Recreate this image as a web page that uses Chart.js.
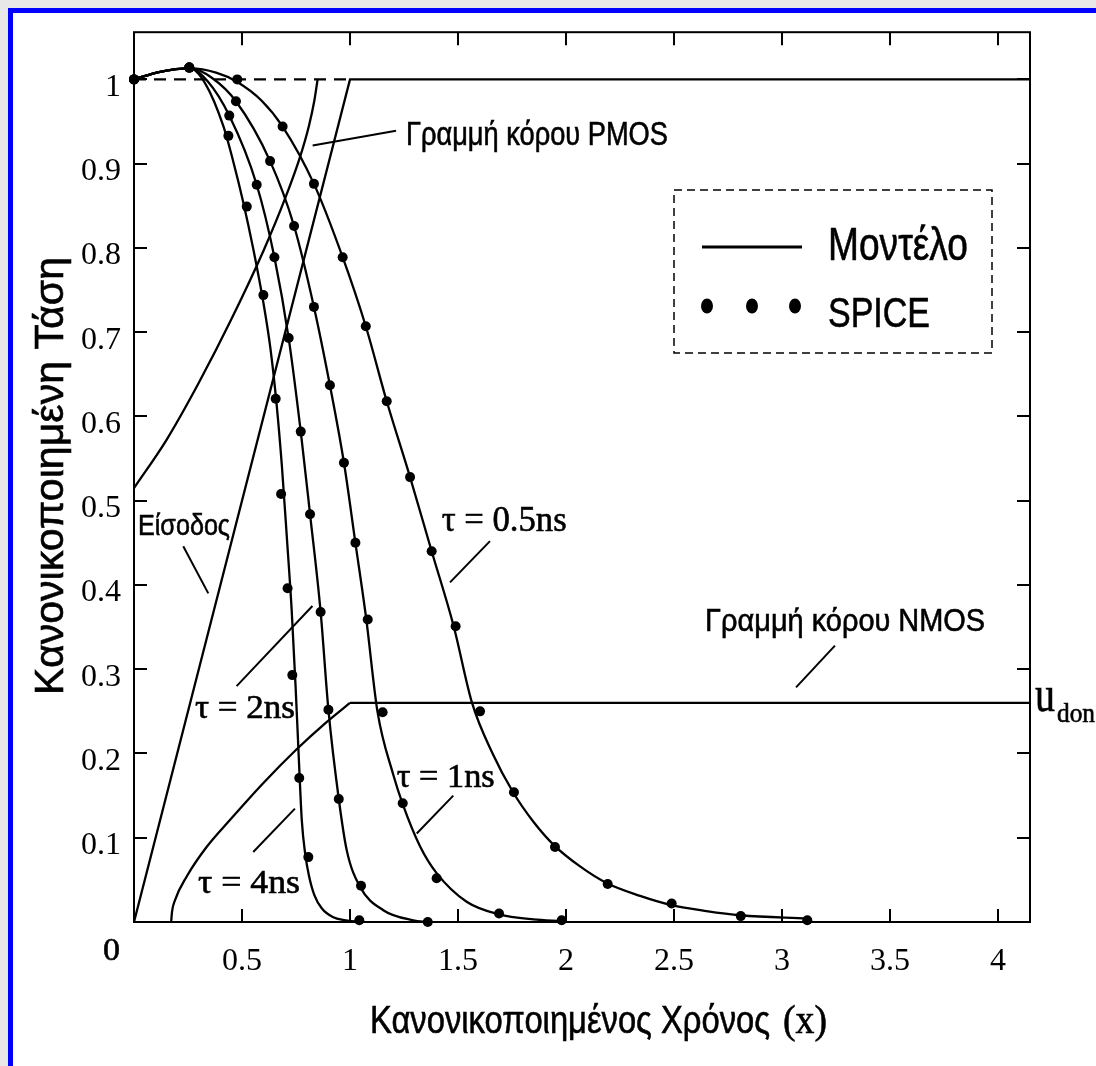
<!DOCTYPE html>
<html lang="el">
<head>
<meta charset="utf-8">
<title>Κανονικοποιημένη Τάση</title>
<script src="https://cdn.jsdelivr.net/npm/chart.js@4.4.1/dist/chart.umd.min.js"></script>
<style>
  html, body { margin: 0; padding: 0; background: #e8e8e8; overflow: hidden; }
  #frame { position: absolute; left: 8px; top: 8px; width: 1200px; height: 1200px; background: #fff;
           border-left: 5px solid #0000ff; border-top: 5px solid #0000ff; }
  #chart { position: absolute; left: 0; top: 0; }
</style>
</head>
<body>
<div id="frame"></div>
<canvas id="chart" width="1096" height="1066"></canvas>
<script>
// --- άξονες ---
const X_MAX = 4.148;
const Y_MAX = 1.056;
const xTicks = [0.5, 1, 1.5, 2, 2.5, 3, 3.5, 4];
const xTickLabels = ['0.5', '1', '1.5', '2', '2.5', '3', '3.5', '4'];
const yTicks = [0.1, 0.2, 0.3, 0.4, 0.5, 0.6, 0.7, 0.8, 0.9, 1];
const yTickLabels = ['0.1', '0.2', '0.3', '0.4', '0.5', '0.6', '0.7', '0.8', '0.9', '1'];

// --- μοντέλο (συνεχείς καμπύλες) ---
const model05X = [0, 0.12, 0.26, 0.38, 0.478, 0.59, 0.688, 0.833, 0.966, 1.073, 1.17, 1.278, 1.378, 1.48, 1.565, 1.66, 1.755, 1.849, 1.945, 2.065, 2.19, 2.343, 2.489, 2.65, 2.809, 3.117];
const model05Y = [1, 1.009, 1.013, 1.008, 0.997, 0.975, 0.944, 0.876, 0.789, 0.707, 0.618, 0.528, 0.44, 0.351, 0.26, 0.2, 0.154, 0.119, 0.091, 0.066, 0.046, 0.031, 0.02, 0.013, 0.008, 0.004];
const model1X = [0, 0.12, 0.26, 0.36, 0.472, 0.63, 0.741, 0.833, 0.907, 0.972, 1.025, 1.075, 1.127, 1.2, 1.244, 1.324, 1.401, 1.54, 1.69, 1.849, 1.98];
const model1Y = [1, 1.009, 1.013, 1.002, 0.974, 0.903, 0.826, 0.73, 0.637, 0.545, 0.45, 0.36, 0.25, 0.175, 0.14, 0.09, 0.058, 0.024, 0.009, 0.003, 0.001];
const model2X = [0, 0.12, 0.26, 0.34, 0.441, 0.568, 0.65, 0.716, 0.772, 0.815, 0.864, 0.9, 0.948, 0.985, 1.046, 1.154, 1.293, 1.36];
const model2Y = [1, 1.009, 1.013, 0.998, 0.957, 0.875, 0.789, 0.693, 0.582, 0.484, 0.368, 0.252, 0.146, 0.085, 0.042, 0.014, 0.002, 0];
const model4X = [0, 0.12, 0.26, 0.33, 0.413, 0.46, 0.506, 0.552, 0.599, 0.632, 0.66, 0.685, 0.708, 0.73, 0.748, 0.762, 0.777, 0.793, 0.81, 0.835, 0.87, 0.92, 0.98, 1.04];
const model4Y = [1, 1.009, 1.013, 0.995, 0.945, 0.902, 0.854, 0.799, 0.735, 0.68, 0.615, 0.54, 0.455, 0.37, 0.28, 0.2, 0.12, 0.08, 0.055, 0.032, 0.016, 0.006, 0.002, 0];

// --- SPICE (σημεία) ---
const spice05X = [0, 0.256, 0.478, 0.688, 0.833, 0.966, 1.073, 1.17, 1.278, 1.378, 1.489, 1.602, 1.759, 1.949, 2.193, 2.489, 2.809, 3.117];
const spice05Y = [1, 1.014, 1.0, 0.944, 0.876, 0.789, 0.707, 0.618, 0.528, 0.44, 0.351, 0.25, 0.154, 0.089, 0.045, 0.022, 0.007, 0.002];
const spice1X = [0, 0.256, 0.472, 0.63, 0.741, 0.833, 0.907, 0.972, 1.025, 1.082, 1.151, 1.244, 1.401, 1.69, 1.98];
const spice1Y = [1, 1.014, 0.974, 0.903, 0.826, 0.73, 0.637, 0.545, 0.45, 0.359, 0.249, 0.141, 0.052, 0.01, 0.002];
const spice2X = [0, 0.256, 0.441, 0.568, 0.65, 0.716, 0.772, 0.815, 0.864, 0.9, 0.948, 1.051, 1.36];
const spice2Y = [1, 1.014, 0.957, 0.875, 0.789, 0.693, 0.582, 0.484, 0.368, 0.252, 0.146, 0.043, 0];
const spice4X = [0, 0.256, 0.437, 0.522, 0.599, 0.656, 0.681, 0.711, 0.733, 0.765, 0.807, 1.043];
const spice4Y = [1, 1.014, 0.933, 0.849, 0.744, 0.621, 0.508, 0.396, 0.293, 0.171, 0.077, 0.002];

// --- είσοδος και γραμμές κόρου ---
const inputX = [0, 1, X_MAX];
const inputY = [0, 1, 1];
const refX = [0, 1];
const refY = [1, 1];
const pmosX = [0, 0.15, 0.3, 0.45, 0.6, 0.7, 0.77, 0.81, 0.835, 0.85];
const pmosY = [0.515, 0.572, 0.64, 0.715, 0.797, 0.859, 0.909, 0.945, 0.975, 1.0];
const nmosX = [0.172, 0.176, 0.19, 0.244, 0.336, 0.444, 0.599, 0.753, 0.877, 1.0];
const nmosY = [0, 0.012, 0.026, 0.054, 0.089, 0.121, 0.165, 0.205, 0.234, 0.26];
const U_DON = 0.26;
const donX = [1, X_MAX];
const donY = [U_DON, U_DON];

const SANS = "'Liberation Sans', Arial, Helvetica, sans-serif";
const SERIF = "'Liberation Serif', 'Times New Roman', serif";

// σχόλια πάνω στο διάγραμμα: θέση κειμένου και γραμμή αναφοράς σε μονάδες αξόνων
const notes = [
    { text: 'Γραμμή κόρου PMOS', x: 1.259, y: 0.922, w: 262, size: 33, family: SANS, lead: [0.827, 0.9215, 1.213, 0.939] },
    { text: 'Γραμμή κόρου NMOS', x: 2.644, y: 0.3456, w: 280, size: 32, family: SANS, lead: [3.065, 0.2785, 3.245, 0.328] },
    { text: 'Είσοδος', x: 0.0185, y: 0.4598, w: 92, size: 30, family: SANS, lead: [0.228, 0.446, 0.344, 0.39] },
    { text: 'τ = 0.5ns', x: 1.4245, y: 0.4639, w: 125, size: 35, family: SERIF, lead: [1.648, 0.452, 1.463, 0.403] },
    { text: 'τ = 1ns', x: 1.2162, y: 0.1598, w: 98, size: 33, family: SERIF, lead: [1.309, 0.105, 1.478, 0.15] },
    { text: 'τ = 2ns', x: 0.2824, y: 0.2426, w: 100, size: 33, family: SERIF, lead: [0.475, 0.28, 0.826, 0.375] },
    { text: 'τ = 4ns', x: 0.2963, y: 0.0343, w: 102, size: 33, family: SERIF, lead: [0.552, 0.083, 0.745, 0.1346] }
];

function pts(xs, ys) {
    return xs.map((x, i) => ({ x: x, y: ys[i] }));
}

function curve(xs, ys) {
    return { data: pts(xs, ys), showLine: true, borderColor: '#000', borderWidth: 2.3,
             pointRadius: 0, cubicInterpolationMode: 'monotone', clip: false };
}

function straight(xs, ys, dash) {
    return { data: pts(xs, ys), showLine: true, borderColor: '#000', borderWidth: 2.3,
             pointRadius: 0, tension: 0, borderDash: dash || [], clip: false };
}

function dots(xs, ys) {
    return { data: pts(xs, ys), showLine: false, pointRadius: 5, pointHoverRadius: 5,
             pointBackgroundColor: '#000', pointBorderColor: '#000', pointBorderWidth: 0, clip: false };
}

// κείμενο με οριζόντια συμπίεση ώστε να έχει δοσμένο πλάτος (στενή γραμματοσειρά)
function fitText(ctx, text, x, y, width, font) {
    ctx.save();
    ctx.font = font;
    const w = ctx.measureText(text).width;
    ctx.translate(x, y);
    ctx.scale(width / w, 1);
    ctx.textAlign = 'left';
    ctx.textBaseline = 'alphabetic';
    ctx.fillStyle = '#000';
    ctx.strokeStyle = '#000';
    ctx.lineWidth = 0.6;
    ctx.fillText(text, 0, 0);
    ctx.strokeText(text, 0, 0);
    ctx.restore();
}

// πλαίσιο και εσωτερικές υποδιαιρέσεις στις τέσσερις πλευρές
const framePlugin = {
    id: 'frame',
    afterDatasetsDraw(chart) {
        const { ctx, chartArea: a, scales: { x, y } } = chart;
        const tl = 13;
        ctx.save();
        ctx.strokeStyle = '#000';
        ctx.lineWidth = 2;
        ctx.strokeRect(a.left, a.top, a.right - a.left, a.bottom - a.top);
        ctx.beginPath();
        xTicks.forEach(v => {
            const px = Math.round(x.getPixelForValue(v));
            ctx.moveTo(px, a.bottom); ctx.lineTo(px, a.bottom - tl);
            ctx.moveTo(px, a.top); ctx.lineTo(px, a.top + tl);
        });
        yTicks.forEach(v => {
            const py = Math.round(y.getPixelForValue(v));
            ctx.moveTo(a.left, py); ctx.lineTo(a.left + tl, py);
            ctx.moveTo(a.right, py); ctx.lineTo(a.right - tl, py);
        });
        ctx.stroke();
        // κοινό μηδέν των δύο αξόνων
        fitText(ctx, '0', a.left - 31, a.bottom + 38, 17, '32px ' + SERIF);
        ctx.restore();
    }
};

const notesPlugin = {
    id: 'notes',
    afterDraw(chart) {
        const { ctx, chartArea: a, scales: { x, y } } = chart;
        ctx.save();
        ctx.strokeStyle = '#000';
        ctx.lineWidth = 2;
        notes.forEach(n => {
            fitText(ctx, n.text, x.getPixelForValue(n.x), y.getPixelForValue(n.y), n.w, n.size + 'px ' + n.family);
            ctx.beginPath();
            ctx.moveTo(x.getPixelForValue(n.lead[0]), y.getPixelForValue(n.lead[1]));
            ctx.lineTo(x.getPixelForValue(n.lead[2]), y.getPixelForValue(n.lead[3]));
            ctx.stroke();
        });

        // u_don δεξιά από το πλαίσιο
        const yd = y.getPixelForValue(U_DON);
        fitText(ctx, 'u', a.right + 5, yd + 8, 20, '50px ' + SERIF);
        fitText(ctx, 'don', a.right + 27, yd + 19, 38, '27px ' + SERIF);

        // υπόμνημα
        const lx = 674, ly = 190;
        ctx.lineWidth = 1.5;
        ctx.setLineDash([8, 5]);
        ctx.strokeRect(lx, ly, 318, 163);
        ctx.setLineDash([]);
        ctx.lineWidth = 3;
        ctx.beginPath();
        ctx.moveTo(lx + 28, ly + 57);
        ctx.lineTo(lx + 128, ly + 57);
        ctx.stroke();
        ctx.fillStyle = '#000';
        [33, 78, 121].forEach(dx => {
            ctx.beginPath();
            ctx.ellipse(lx + dx, ly + 116, 6, 7.5, 0, 0, Math.PI * 2);
            ctx.fill();
        });
        fitText(ctx, 'Μοντέλο', lx + 154, ly + 70, 140, '46px ' + SANS);
        fitText(ctx, 'SPICE', lx + 154, ly + 137, 102, '42px ' + SANS);

        // τίτλοι αξόνων
        fitText(ctx, 'Κανονικοποιημένος Χρόνος', 370, 1033, 400, '39px ' + SANS);
        fitText(ctx, '(x)', 783, 1033, 44, '40px ' + SERIF);
        ctx.save();
        ctx.translate(63, 695);
        ctx.rotate(-Math.PI / 2);
        fitText(ctx, 'Κανονικοποιημένη Τάση', 0, 0, 438, '40px ' + SANS);
        ctx.restore();
        ctx.restore();
    }
};

new Chart(document.getElementById('chart'), {
    type: 'scatter',
    data: {
        datasets: [
            straight(refX, refY, [12, 8]),
            straight(inputX, inputY),
            curve(pmosX, pmosY),
            curve(nmosX, nmosY),
            straight(donX, donY),
            curve(model05X, model05Y),
            curve(model1X, model1Y),
            curve(model2X, model2Y),
            curve(model4X, model4Y),
            dots(spice05X, spice05Y),
            dots(spice1X, spice1Y),
            dots(spice2X, spice2Y),
            dots(spice4X, spice4Y)
        ]
    },
    options: {
        responsive: false,
        animation: false,
        events: [],
        layout: { padding: { top: 30, right: 66, left: 0, bottom: 0 } },
        plugins: { legend: { display: false }, tooltip: { enabled: false } },
        scales: {
            x: {
                type: 'linear', min: 0, max: X_MAX,
                grid: { display: false, drawTicks: false },
                border: { display: false },
                afterFit: s => { s.height = 144; },
                afterBuildTicks: s => { s.ticks = xTicks.map(v => ({ value: v })); },
                ticks: {
                    color: '#000', font: { family: SERIF, size: 32 }, padding: 20,
                    maxRotation: 0, autoSkip: false,
                    callback: (v, i) => xTickLabels[i]
                }
            },
            y: {
                type: 'linear', min: 0, max: Y_MAX,
                grid: { display: false, drawTicks: false },
                border: { display: false },
                afterFit: s => { s.width = 134; },
                afterBuildTicks: s => { s.ticks = yTicks.map(v => ({ value: v })); },
                ticks: {
                    color: '#000', font: { family: SERIF, size: 32 }, padding: 13,
                    labelOffset: 8, autoSkip: false,
                    callback: (v, i) => yTickLabels[i]
                }
            }
        }
    },
    plugins: [framePlugin, notesPlugin]
});
</script>
</body>
</html>
